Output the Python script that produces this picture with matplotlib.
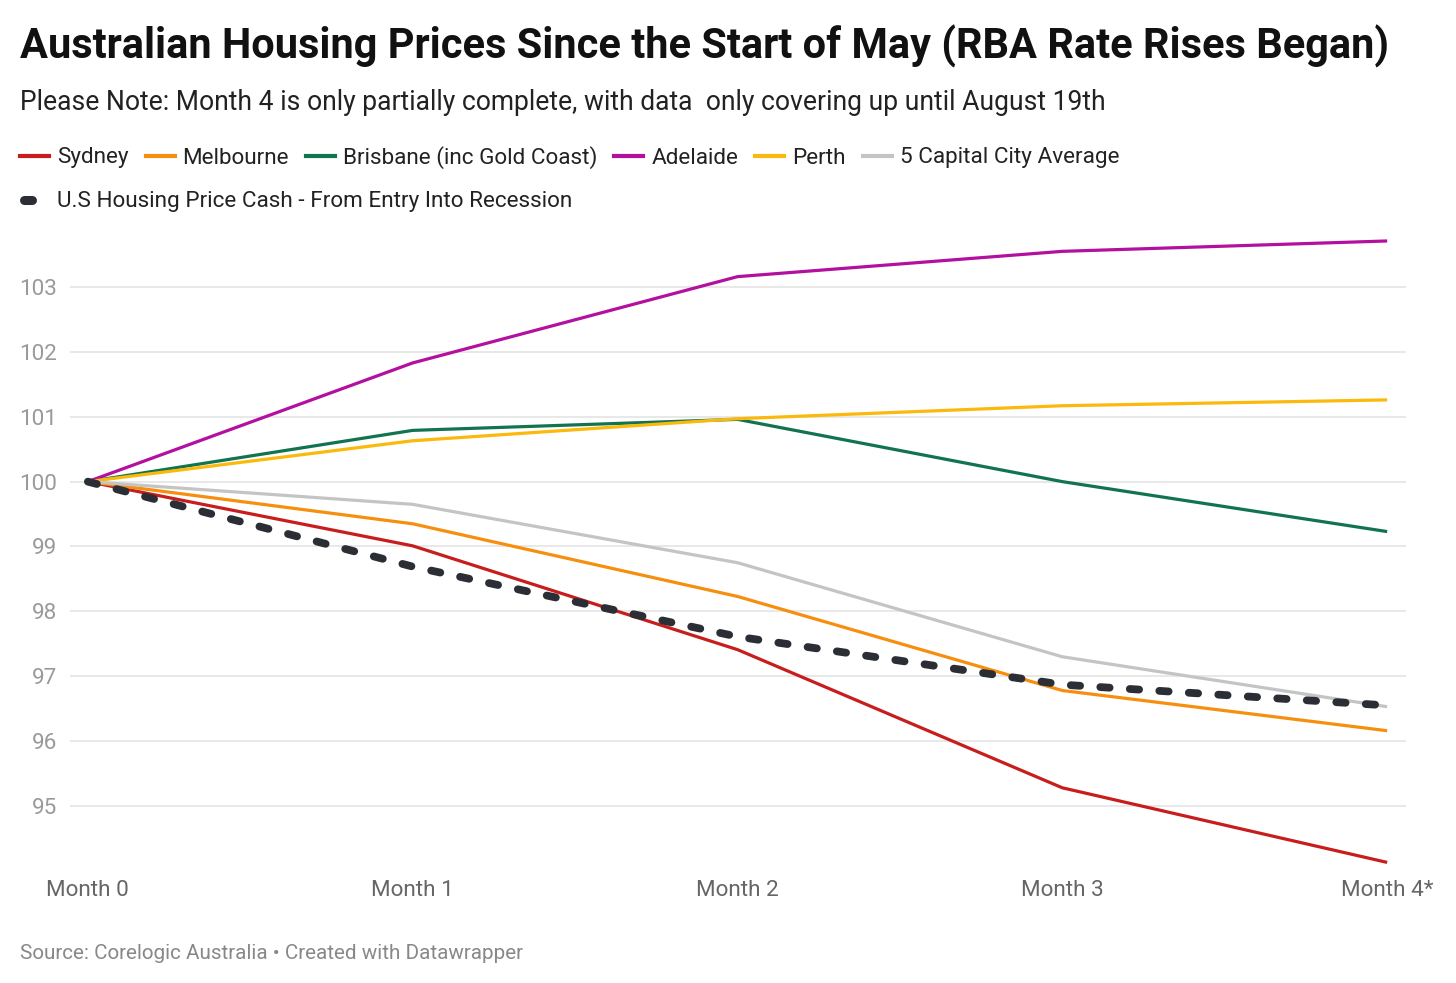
import matplotlib
matplotlib.use('Agg')
import matplotlib.pyplot as plt
from matplotlib.lines import Line2D

plt.rcParams['font.family'] = ['Roboto', 'DejaVu Sans']

# Data
months = ['Month 0', 'Month 1', 'Month 2', 'Month 3', 'Month 4*']
sydney = [100, 99.01, 97.41, 95.28, 94.13]
melbourne = [100, 99.35, 98.23, 96.78, 96.16]
brisbane = [100, 100.79, 100.96, 100.0, 99.23]
adelaide = [100, 101.83, 103.16, 103.55, 103.71]
perth = [100, 100.63, 100.97, 101.17, 101.26]
capital_avg = [100, 99.65, 98.75, 97.30, 96.53]
us_crash = [100, 98.69, 97.61, 96.87, 96.55]

yticks = [95, 96, 97, 98, 99, 100, 101, 102, 103]

series = [
    ('Sydney', sydney, '#c71e1d'),
    ('Melbourne', melbourne, '#f68f0f'),
    ('Brisbane (inc Gold Coast)', brisbane, '#12734f'),
    ('Adelaide', adelaide, '#b3109f'),
    ('Perth', perth, '#fbb90c'),
    ('5 Capital City Average', capital_avg, '#c4c4c4'),
]
us_label = 'U.S Housing Price Cash - From Entry Into Recession'
us_color = '#2b2e35'

W, H = 1456, 983
fig = plt.figure(figsize=(W / 100, H / 100), dpi=100)
ax = fig.add_axes([70 / W, 1 - 870 / H, 1336 / W, 640 / H])

x = list(range(len(months)))
for name, vals, col in series:
    ax.plot(x, vals, color=col, linewidth=2.3, solid_capstyle='butt', zorder=3)
ax.plot(x, us_crash, color=us_color, linewidth=5.6, linestyle=(0, (1.2, 2.6)),
        dash_capstyle='round', zorder=4)

ax.set_xlim(-0.055, 4.058)
ax.set_ylim(94.013, 103.879)
ax.set_yticks(yticks)
ax.set_xticks(x)
ax.set_xticklabels(months)
ax.grid(axis='y', color='#e1e1e1', linewidth=1.1)
ax.set_axisbelow(True)
for s in ax.spines.values():
    s.set_visible(False)
ax.tick_params(axis='y', length=0, pad=9.5, labelsize=16.2, labelcolor='#9a9a9a')
ax.tick_params(axis='x', length=0, pad=7.5, labelsize=16.2, labelcolor='#666666')

fig.text(20 / W, 1 - 58 / H, 'Australian Housing Prices Since the Start of May (RBA Rate Rises Began)',
         fontsize=29.9, fontweight='bold', color='#111111', va='baseline', ha='left')
fig.text(20 / W, 1 - 110 / H,
         'Please Note: Month 4 is only partially complete, with data  only covering up until August 19th',
         fontsize=19.1, color='#222222', va='baseline', ha='left')
fig.text(20 / W, 1 - 959 / H, 'Source: Corelogic Australia \u2022 Created with Datawrapper',
         fontsize=14.9, color='#888888', va='baseline', ha='left')

# Manual legend, laid out like the reference
fig.canvas.draw()
renderer = fig.canvas.get_renderer()
px = 20
row_y = 156
for name, vals, col in series:
    fig.add_artist(Line2D([px / W, (px + 29) / W], [1 - row_y / H] * 2,
                          color=col, linewidth=3, transform=fig.transFigure))
    t = fig.text((px + 37) / W, 1 - (row_y + 2) / H, name, fontsize=16.2, color='#222222',
                 va='center', ha='left')
    bb = t.get_window_extent(renderer)
    px = bb.x1 + 17
row_y = 200
fig.add_artist(Line2D([24 / W, 32 / W], [1 - row_y / H] * 2, color=us_color,
                      linewidth=6.5, solid_capstyle='round', transform=fig.transFigure))
fig.text(57 / W, 1 - (row_y + 2) / H, us_label, fontsize=16.2, color='#222222',
         va='center', ha='left')

fig.savefig('out.png', dpi=100, facecolor='white')
